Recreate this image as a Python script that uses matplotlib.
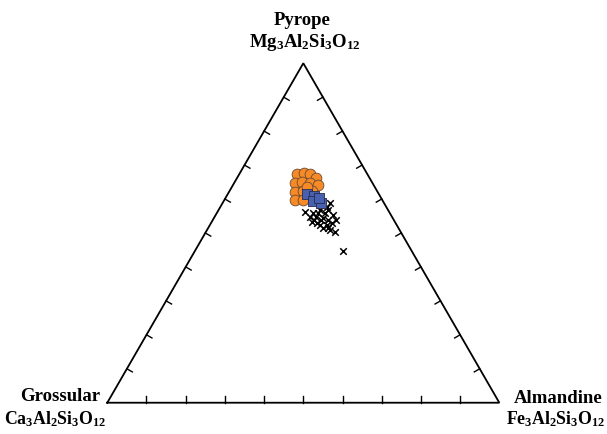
import numpy as np
import matplotlib
matplotlib.use("Agg")
import matplotlib.pyplot as plt

plt.rcParams["mathtext.fontset"] = "custom"
plt.rcParams["mathtext.rm"] = "Liberation Serif:bold"
plt.rcParams["mathtext.it"] = "Liberation Serif:bold"
plt.rcParams["mathtext.bf"] = "Liberation Serif:bold"

# Garnet end-member proportions (mol %): pyrope, almandine, grossular
circ_py = [67.4, 67.7, 67.4, 66.2, 64.7, 65.0, 64.7, 64.1, 62.1, 62.4, 62.4, 59.7, 59.7, 63.5]
circ_alm = [14.7, 16.3, 18.0, 20.1, 15.5, 17.2, 19.3, 21.7, 16.9, 18.7, 21.0, 18.0, 20.1, 19.1]
circ_gr = [17.9, 16.0, 14.6, 13.7, 19.8, 17.8, 16.0, 14.2, 21.0, 18.9, 16.6, 22.3, 20.2, 17.4]

sq_py = [61.5, 60.9, 59.4, 58.8, 60.2]
sq_alm = [20.2, 22.3, 22.8, 25.1, 23.9]
sq_gr = [18.3, 16.8, 17.8, 16.1, 15.9]

x_py = [56.2, 44.7, 55.9, 56.8, 57.6, 58.8, 53.2, 52.9, 54.4, 53.8, 55.3, 52.9, 51.5,
        51.5, 50.3, 52.3, 54.7, 54.7, 55.9, 55.9, 56.8, 52.3, 53.8, 50.9, 53.8, 53.8]
x_alm = [22.3, 37.8, 24.6, 25.9, 27.2, 27.4, 25.6, 27.1, 27.8, 29.4, 30.0, 30.9, 29.3,
         30.6, 33.0, 28.2, 24.4, 25.9, 27.6, 25.8, 27.9, 29.9, 25.8, 31.4, 27.6, 31.4]
x_gr = [21.5, 17.5, 19.5, 17.3, 15.2, 13.8, 21.2, 20.0, 17.8, 16.8, 14.7, 16.2, 19.2,
        17.9, 16.7, 19.5, 20.9, 19.4, 16.5, 18.3, 15.3, 17.8, 20.4, 17.7, 18.6, 14.8]

apex_labels = ["Pyrope", "Grossular", "Almandine"]
apex_formulas = [r"$Mg_3Al_2Si_3O_{12}$", r"$Ca_3Al_2Si_3O_{12}$", r"$Fe_3Al_2Si_3O_{12}$"]

H = np.sqrt(3) / 2


def to_xy(py, alm, gr):
    py = np.asarray(py, float)
    alm = np.asarray(alm, float)
    gr = np.asarray(gr, float)
    tot = py + alm + gr
    p, a = py / tot, alm / tot
    return a + p / 2, p * H


fig = plt.figure(figsize=(6.07, 4.34), dpi=100)
ax = fig.add_axes([0, 0, 1, 1])
ax.set_xlim(-0.2737, 1.2747)
ax.set_ylim(-0.0798, 1.0273)
ax.axis("off")

# triangle frame
ax.plot([0, 1, 0.5, 0], [0, 0, H, 0], color="black", lw=1.3, zorder=1,
        solid_joinstyle="miter")

# inward ticks every 10 %
tl = 0.016
for k in range(1, 10):
    f = k / 10
    # bottom edge
    ax.plot([f, f], [0, tl], color="black", lw=1.0)
    # left edge
    lx, ly = 0.5 * f, H * f
    ax.plot([lx, lx + tl * np.cos(np.radians(-30))], [ly, ly + tl * np.sin(np.radians(-30))],
            color="black", lw=1.0)
    # right edge
    rx, ry = 1 - 0.5 * f, H * f
    ax.plot([rx, rx + tl * np.cos(np.radians(210))], [ry, ry + tl * np.sin(np.radians(210))],
            color="black", lw=1.0)

# samples
xx, xy = to_xy(x_py, x_alm, x_gr)
ax.scatter(xx, xy, marker="x", s=22, color="black", linewidths=1.1, zorder=3)
cx, cy = to_xy(circ_py, circ_alm, circ_gr)
ax.scatter(cx, cy, marker="o", s=60, facecolor="#F58A27", edgecolor="#6b4a30",
           linewidths=0.6, zorder=4)
sx, sy = to_xy(sq_py, sq_alm, sq_gr)
ax.scatter(sx, sy, marker="s", s=44, facecolor="#4760B0", edgecolor="#2a2a4a",
           linewidths=0.6, zorder=5)


# apex labels
def px(x, y):
    return (x - 107.3) / 392, (402.7 - y) / 392


tfont = dict(family="Liberation Serif", weight="bold", fontsize=13.5)
pos_names = [(302, 25), (60, 401), (558, 403)]
pos_forms = [(305, 47), (55, 424), (555, 424)]
form_sizes = [13.5, 12.8, 12.8]
for name, form, (nx, ny), (fx, fy), fs in zip(apex_labels, apex_formulas, pos_names,
                                              pos_forms, form_sizes):
    ax.text(*px(nx, ny), name, ha="center", va="baseline", **tfont)
    ax.text(*px(fx, fy), form, ha="center", va="baseline", fontsize=fs)

fig.savefig("out.png", dpi=100)
